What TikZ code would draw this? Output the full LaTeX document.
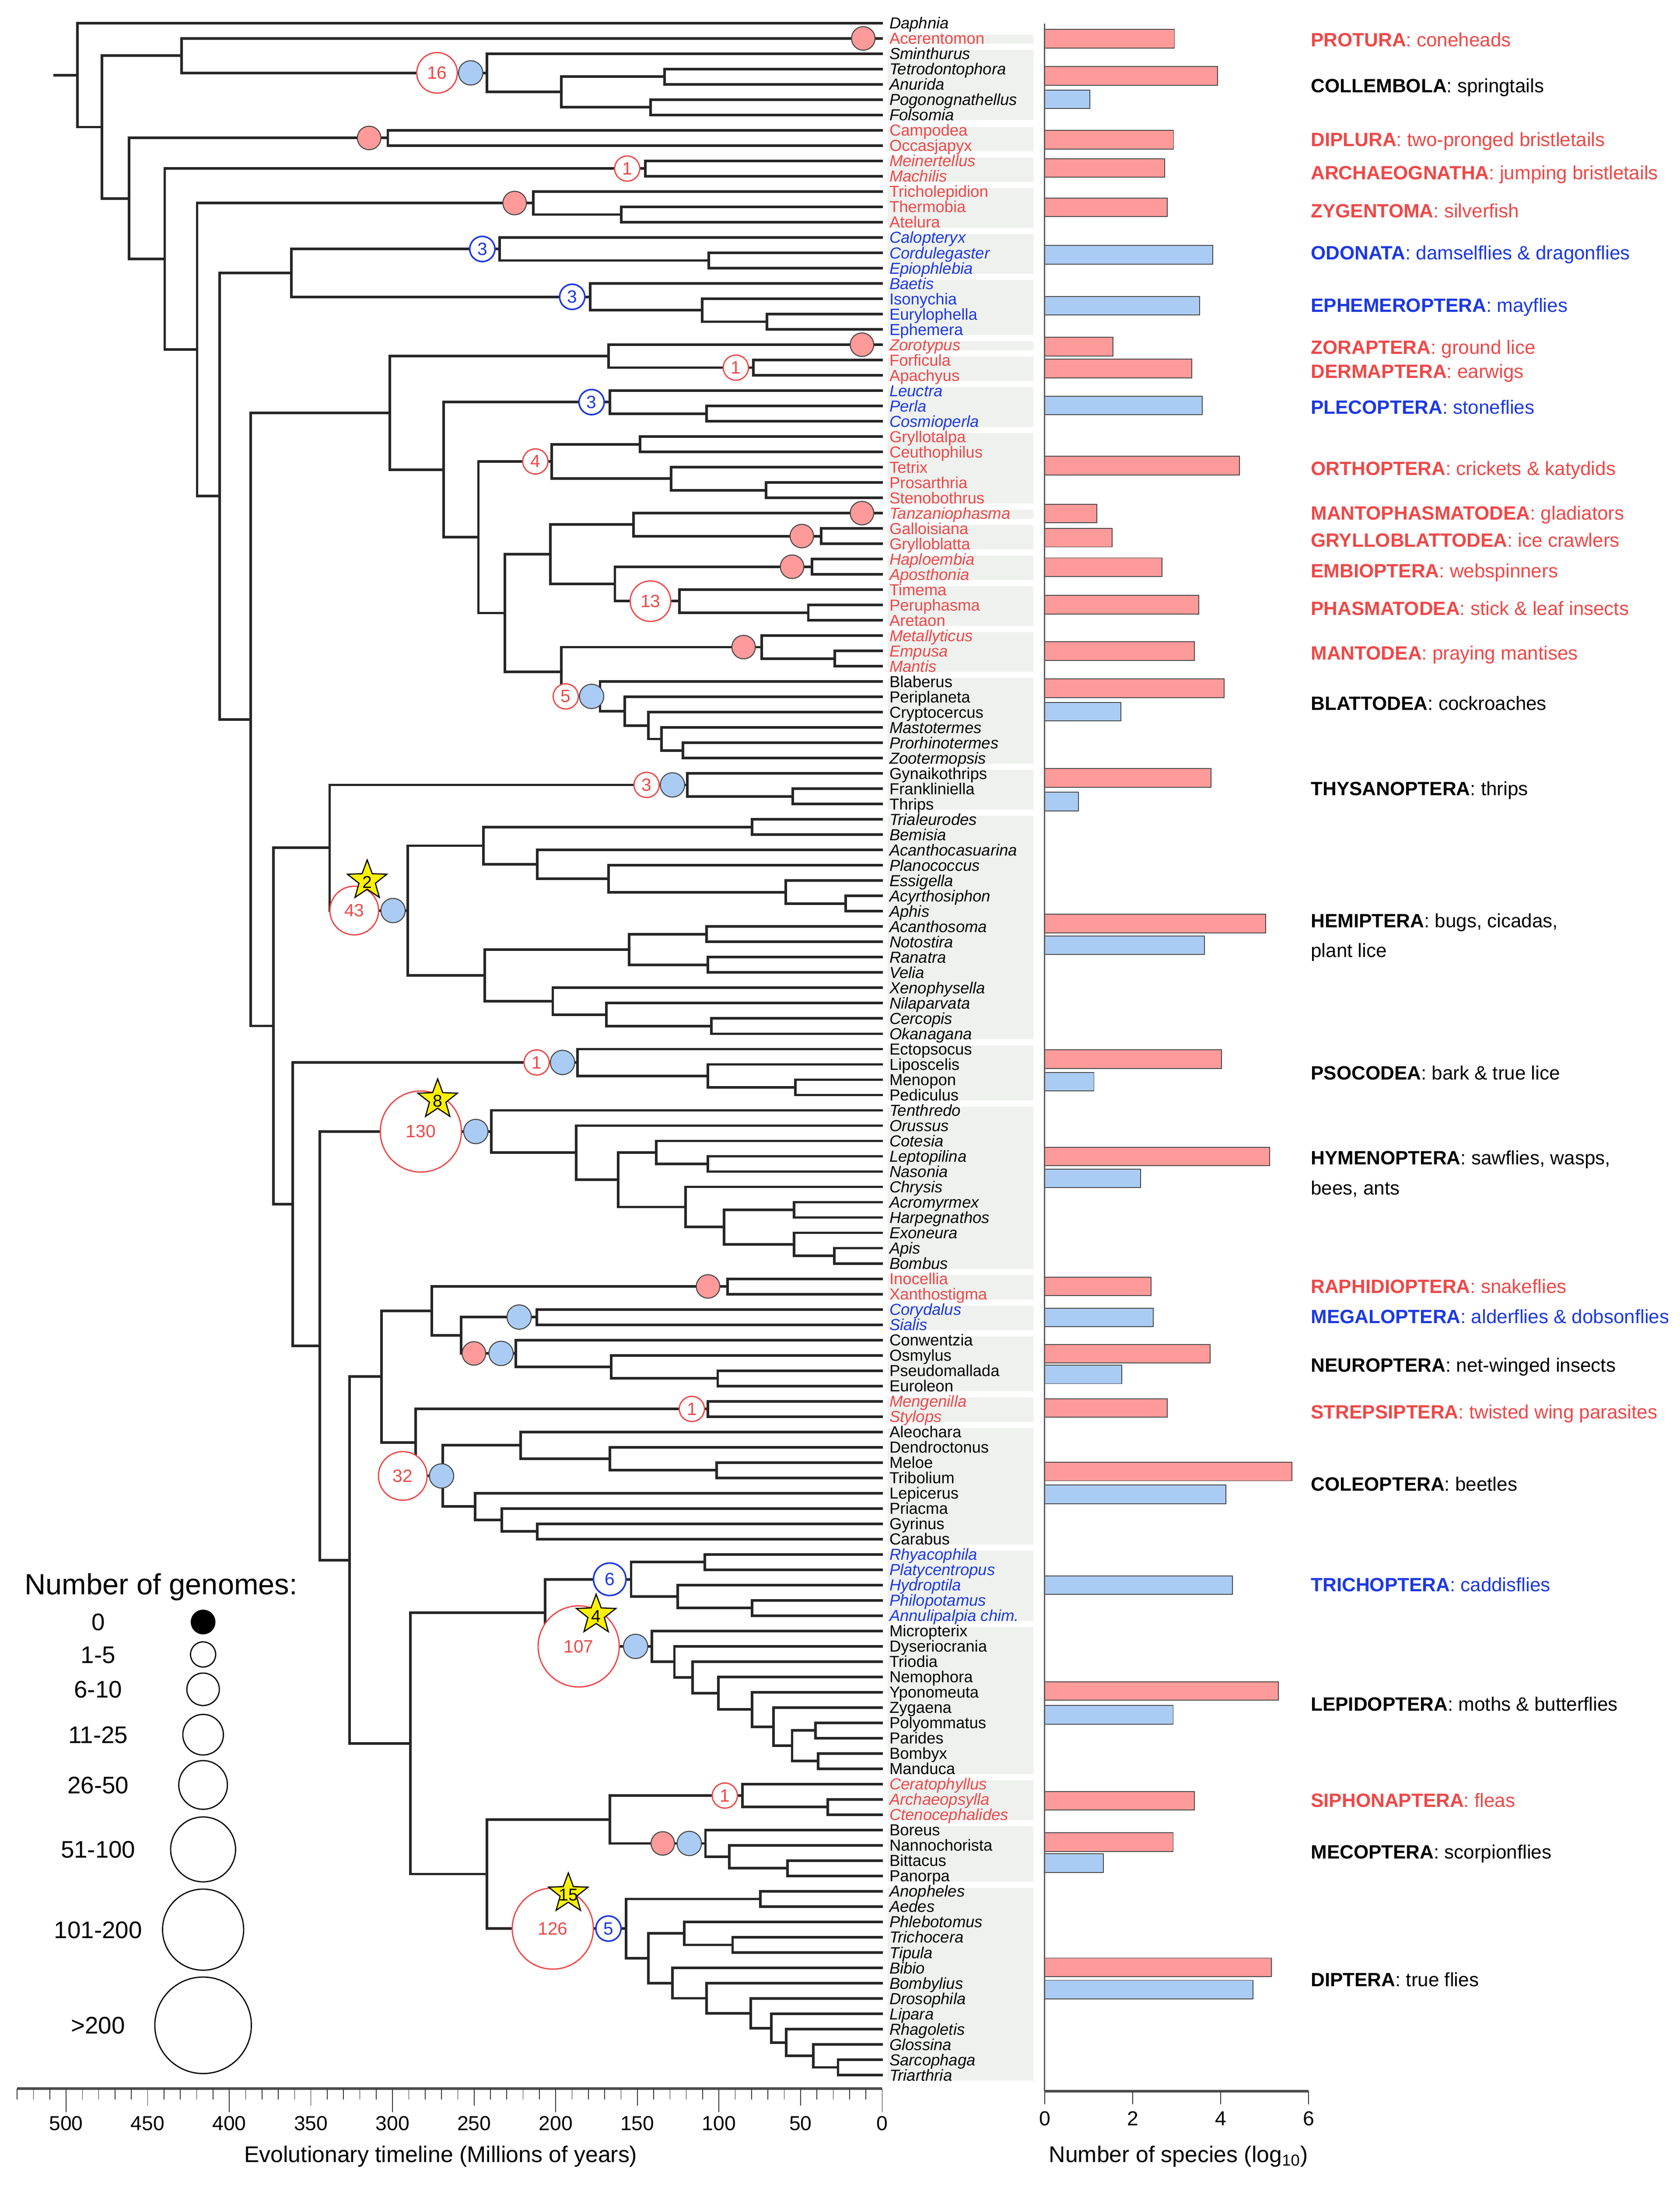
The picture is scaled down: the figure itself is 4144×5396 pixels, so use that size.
\documentclass[tikz,border=0pt]{standalone}
\usepackage{fontspec}
\setmainfont{Liberation Sans}
\usetikzlibrary{calc,shapes.geometric}
\definecolor{tred}{RGB}{238,72,72}
\definecolor{tblue}{RGB}{28,56,226}
\definecolor{pinkf}{RGB}{255,154,154}
\definecolor{bluef}{RGB}{170,204,244}
\definecolor{bandg}{RGB}{239,241,239}
\definecolor{edgeg}{RGB}{70,70,70}
\newcommand\myfs[1]{\fontsize{#1}{#1}\selectfont}
\newcommand\nd[4]{%
  \path ($(#3)!0.5!(#4)$) coordinate (#1m);
  \coordinate (#1) at (#2,0 |- #1m);
  \draw[br] (#1) |- (#3);
  \draw[br] (#1) |- (#4);
}
\newcommand\grp[3]{\foreach \n [count=\i from #1] in {#3} {\node[#2] (t\i) at (L\i) {\n};}}
\tikzset{
  br/.style={line width=1.8pt, draw=black!85},
  txb/.style={anchor=base west, inner sep=0pt, xshift=0.16cm, yshift=-4pt, font=\myfs{11.2pt}},
  xk/.style={txb, text=black},
  xki/.style={txb, text=black, font=\myfs{11.2pt}\itshape},
  xr/.style={txb, text=tred},
  xri/.style={txb, text=tred, font=\myfs{11.2pt}\itshape},
  xb/.style={txb, text=tblue},
  xbi/.style={txb, text=tblue, font=\myfs{11.2pt}\itshape},
  mkpink/.style={circle, draw=edgeg, line width=0.7pt, fill=pinkf, minimum size=0.58cm, inner sep=0pt},
  mkblue/.style={circle, draw=edgeg, line width=0.7pt, fill=bluef, minimum size=0.6cm, inner sep=0pt},
  mkred/.style={circle, draw=tred, line width=0.9pt, fill=white, text=tred, minimum size=#1, inner sep=0pt, font=\myfs{12.5pt}},
  mkbo/.style={circle, draw=tblue, line width=1.1pt, fill=white, text=tblue, minimum size=#1, inner sep=0pt, font=\myfs{12.5pt}},
  ystar/.style={star, star points=5, star point ratio=2.4, draw=black, line width=0.8pt, fill=yellow, minimum size=1.02cm, inner sep=0pt},
  sttxt/.style={inner sep=0pt, font=\myfs{12pt}, yshift=-1pt},
  ol/.style={anchor=base west, inner sep=0pt, font=\myfs{13.5pt}},
  barst/.style={draw=edgeg, line width=0.6pt},
  tick/.style={line width=0.5pt, draw=black!80},
  axl/.style={anchor=base, inner sep=0pt, font=\myfs{14.2pt}},
  ttl/.style={anchor=base, inner sep=0pt, font=\myfs{15.9pt}},
  lgc/.style={circle, draw=black, line width=0.85pt, inner sep=0pt},
  lgl/.style={anchor=base, inner sep=0pt, yshift=-6pt, font=\myfs{16.8pt}}
}
\begin{document}
\begin{tikzpicture}[x=0.01cm,y=-0.01cm]
\fill[white] (0,0) rectangle (4144,5396);
\useasboundingbox (0,0) rectangle (4144,5396);

\begin{scope}[shift={(100,19.24)},x=0.015944cm,y=-0.3776cm]
% gray bands
\foreach \a/\b in {2/2,3/7,8/9,10/11,12/14,15/17,18/21,22/22,23/24,25/27,28/32,33/33,34/35,36/37,38/40,41/43,44/49,50/52,53/67,68/71,72/82,83/84,85/86,87/90,91/92,93/100,101/105,106/115,116/118,119/122,123/135}
  {\fill[bandg] (1310,\a-0.24) rectangle (1535,\b+0.36);}
% leaves
\foreach \i in {1,...,135} {\coordinate (L\i) at (1302,\i);}
% tree
\nd{Col3}{965}{L4}{L5}
\nd{Col4}{943}{L6}{L7}
\nd{Col2}{805}{Col3}{Col4}
\nd{Col}{690}{L3}{Col2}
\nd{B}{218}{L2}{Col}
\nd{Dip}{537}{L8}{L9}
\nd{Arc}{935}{L10}{L11}
\nd{Zyg2}{898}{L13}{L14}
\nd{Zyg}{762}{L12}{Zyg2}
\nd{Odo2}{1033}{L16}{L17}
\nd{Odo}{710}{L15}{Odo2}
\nd{Eph3}{1123}{L20}{L21}
\nd{Eph2}{1023}{L19}{Eph3}
\nd{Eph}{850}{L18}{Eph2}
\nd{G}{388}{Odo}{Eph}
\nd{Der}{1102}{L23}{L24}
\nd{Pa}{878}{L22}{Der}
\nd{Ple2}{1030}{L26}{L27}
\nd{Ple}{880}{L25}{Ple2}
\nd{Ort1}{927}{L28}{L29}
\nd{Ort3}{1122}{L31}{L32}
\nd{Ort2}{975}{L30}{Ort3}
\nd{Ort}{790}{Ort1}{Ort2}
\nd{Gry}{1207}{L34}{L35}
\nd{Pg}{917}{L33}{Gry}
\nd{Emb}{1193}{L36}{L37}
\nd{Pha2}{1187}{L39}{L40}
\nd{Pha}{988}{L38}{Pha2}
\nd{Ph}{888}{Emb}{Pha}
\nd{Pe}{788}{Pg}{Ph}
\nd{Man2}{1228}{L42}{L43}
\nd{Man}{1115}{L41}{Man2}
\nd{Bla5}{993}{L48}{L49}
\nd{Bla4}{960}{L47}{Bla5}
\nd{Bla3}{940}{L46}{Bla4}
\nd{Bla2}{903}{L45}{Bla3}
\nd{Bla}{865}{L44}{Bla2}
\nd{Pf}{805}{Man}{Bla}
\nd{Pd}{718}{Pe}{Pf}
\nd{Pc}{677}{Ort}{Pd}
\nd{Pb}{623}{Ple}{Pc}
\nd{Poly}{540}{Pa}{Pb}
\nd{Thy2}{1163}{L51}{L52}
\nd{Thy}{1000}{L50}{Thy2}
\nd{Hm3}{1100}{L53}{L54}
\nd{Hm7}{1245}{L58}{L59}
\nd{Hm6}{1152}{L57}{Hm7}
\nd{Hm5}{878}{L56}{Hm6}
\nd{Hm4}{768}{L55}{Hm5}
\nd{Hm1}{685}{Hm3}{Hm4}
\nd{Hm10}{1030}{L60}{L61}
\nd{Hm11}{1032}{L62}{L63}
\nd{Hm8}{910}{Hm10}{Hm11}
\nd{Hm13}{1037}{L66}{L67}
\nd{Hm12}{875}{L65}{Hm13}
\nd{Hm9}{792}{L64}{Hm12}
\nd{Hm2}{687}{Hm8}{Hm9}
\nd{Hem}{568}{Hm1}{Hm2}
\nd{J}{447}{Thy}{Hem}
\nd{Pso3}{1167}{L70}{L71}
\nd{Pso2}{1032}{L69}{Pso3}
\nd{Pso}{830}{L68}{Pso2}
\nd{Hy5}{1032}{L75}{L76}
\nd{Hy3}{952}{L74}{Hy5}
\nd{Hy7}{1165}{L78}{L79}
\nd{Hy9}{1227}{L81}{L82}
\nd{Hy8}{1165}{L80}{Hy9}
\nd{Hy6}{1057}{Hy7}{Hy8}
\nd{Hy4}{997}{L77}{Hy6}
\nd{Hy2}{893}{Hy3}{Hy4}
\nd{Hy1}{828}{L73}{Hy2}
\nd{Hym}{697}{L72}{Hy1}
\nd{Rap}{1062}{L83}{L84}
\nd{Meg}{767}{L85}{L86}
\nd{Neu4}{1047}{L89}{L90}
\nd{Neu3}{882}{L88}{Neu4}
\nd{Neu}{735}{L87}{Neu3}
\nd{Nb}{650}{Meg}{Neu}
\nd{Na}{605}{Rap}{Nb}
\nd{Str}{1032}{L91}{L92}
\nd{Co4}{1045}{L95}{L96}
\nd{Co3}{880}{L94}{Co4}
\nd{Co1}{742}{L93}{Co3}
\nd{Co6}{768}{L99}{L100}
\nd{Co5}{713}{L98}{Co6}
\nd{Co2}{672}{L97}{Co5}
\nd{Cole}{622}{Co1}{Co2}
\nd{S}{580}{Str}{Cole}
\nd{O}{527}{Na}{S}
\nd{Tr1}{1027}{L101}{L102}
\nd{Tr3}{1100}{L104}{L105}
\nd{Tr2}{985}{L103}{Tr3}
\nd{Tri}{913}{Tr1}{Tr2}
\nd{Le7}{1198}{L112}{L113}
\nd{Le8}{1202}{L114}{L115}
\nd{Le6}{1162}{Le7}{Le8}
\nd{Le5}{1133}{L111}{Le6}
\nd{Le4}{1100}{L110}{Le5}
\nd{Le3}{1048}{L109}{Le4}
\nd{Le2}{1008}{L108}{Le3}
\nd{Le1}{980}{L107}{Le2}
\nd{Lep}{945}{L106}{Le1}
\nd{T}{780}{Tri}{Lep}
\nd{Sip2}{1217}{L117}{L118}
\nd{Sip}{1085}{L116}{Sip2}
\nd{Mec3}{1155}{L121}{L122}
\nd{Mec2}{1065}{L120}{Mec3}
\nd{Mec}{1028}{L119}{Mec2}
\nd{V}{880}{Sip}{Mec}
\nd{Dp1}{1113}{L123}{L124}
\nd{Dp5}{1070}{L126}{L127}
\nd{Dp3}{995}{L125}{Dp5}
\nd{Dp11}{1233}{L134}{L135}
\nd{Dp10}{1195}{L133}{Dp11}
\nd{Dp9}{1153}{L132}{Dp10}
\nd{Dp8}{1130}{L131}{Dp9}
\nd{Dp7}{1098}{L130}{Dp8}
\nd{Dp6}{1030}{L129}{Dp7}
\nd{Dp4}{977}{L128}{Dp6}
\nd{Dp2}{940}{Dp3}{Dp4}
\nd{Dpt}{905}{Dp1}{Dp2}
\nd{U}{690}{V}{Dpt}
\nd{Q}{572}{T}{U}
\nd{N}{478}{O}{Q}
\nd{M}{432}{Hym}{N}
\nd{K}{390}{Pso}{M}
\nd{I}{360}{J}{K}
\nd{H}{325}{Poly}{I}
\nd{F}{277}{G}{H}
\nd{E}{242}{Zyg}{F}
\nd{D}{192}{Arc}{E}
\nd{C}{137}{Dip}{D}
\nd{A}{95}{B}{C}
\nd{R}{57}{L1}{A}
\coordinate (stub) at (20,0 |- R);
\draw[br] (stub) -- (R);
% markers
\node[mkpink] (mk1) at (1272,0 |- L2) {};
\node[mkred=1cm] (mk2) at (613,0 |- Col) {16};
\node[mkblue] (mk3) at (665,0 |- Col) {};
\node[mkpink] (mk4) at (508,0 |- Dip) {};
\node[mkred=0.62cm] (mk5) at (907,0 |- Arc) {1};
\node[mkpink] (mk6) at (733,0 |- Zyg) {};
\node[mkbo=0.62cm] (mk7) at (683,0 |- Odo) {3};
\node[mkbo=0.62cm] (mk8) at (822,0 |- Eph) {3};
\node[mkpink] (mk9) at (1270,0 |- L22) {};
\node[mkred=0.62cm] (mk10) at (1075,0 |- Der) {1};
\node[mkbo=0.62cm] (mk11) at (852,0 |- Ple) {3};
\node[mkred=0.62cm] (mk12) at (765,0 |- Ort) {4};
\node[mkpink] (mk13) at (1270,0 |- L33) {};
\node[mkpink] (mk14) at (1177,0 |- Gry) {};
\node[mkpink] (mk15) at (1162,0 |- Emb) {};
\node[mkred=1cm] (mk16) at (943,0 |- Pha) {13};
\node[mkpink] (mk17) at (1087,0 |- Man) {};
\node[mkred=0.62cm] (mk18) at (812,0 |- Bla) {5};
\node[mkblue] (mk19) at (852,0 |- Bla) {};
\node[mkred=0.62cm] (mk20) at (937,0 |- Thy) {3};
\node[mkblue] (mk21) at (977,0 |- Thy) {};
\node[mkred=1.2cm] (mk22) at (485,0 |- Hem) {43};
\node[mkblue] (mk23) at (545,0 |- Hem) {};
\node[mkred=0.62cm] (mk24) at (767,0 |- Pso) {1};
\node[mkblue] (mk25) at (807,0 |- Pso) {};
\node[mkred=2cm] (mk26) at (588,0 |- Hym) {130};
\node[mkblue] (mk27) at (673,0 |- Hym) {};
\node[mkpink] (mk28) at (1032,0 |- Rap) {};
\node[mkblue] (mk29) at (740,0 |- Meg) {};
\node[mkpink] (mk30) at (670,0 |- Neu) {};
\node[mkblue] (mk31) at (712,0 |- Neu) {};
\node[mkred=0.62cm] (mk32) at (1007,0 |- Str) {1};
\node[mkred=1.2cm] (mk33) at (560,0 |- Cole) {32};
\node[mkblue] (mk34) at (620,0 |- Cole) {};
\node[mkbo=0.8cm] (mk35) at (880,0 |- Tri) {6};
\node[mkred=2cm] (mk36) at (832,0 |- Lep) {107};
\node[mkblue] (mk37) at (920,0 |- Lep) {};
\node[mkred=0.62cm] (mk38) at (1058,0 |- Sip) {1};
\node[mkpink] (mk39) at (962,0 |- Mec) {};
\node[mkblue] (mk40) at (1003,0 |- Mec) {};
\node[mkred=2cm] (mk41) at (792,0 |- Dpt) {126};
\node[mkbo=0.62cm] (mk42) at (878,0 |- Dpt) {5};
% stars
\node[ystar] (st1) at (505,57.0) {};
\node[sttxt] (st1t) at (st1.center) {2};
\node[ystar] (st2) at (614,71.3) {};
\node[sttxt] (st2t) at (st2.center) {8};
\node[ystar] (st3) at (859,104.95) {};
\node[sttxt] (st3t) at (st3.center) {4};
\node[ystar] (st4) at (816,123.15) {};
\node[sttxt] (st4t) at (st4.center) {15};
% taxa
\grp{1}{xki}{Daphnia}
\grp{2}{xr}{Acerentomon}
\grp{3}{xki}{Sminthurus,Tetrodontophora,Anurida,Pogonognathellus,Folsomia}
\grp{8}{xr}{Campodea,Occasjapyx}
\grp{10}{xri}{Meinertellus,Machilis}
\grp{12}{xr}{Tricholepidion,Thermobia,Atelura}
\grp{15}{xbi}{Calopteryx,Cordulegaster,Epiophlebia,Baetis}
\grp{19}{xb}{Isonychia,Eurylophella,Ephemera}
\grp{22}{xri}{Zorotypus}
\grp{23}{xr}{Forficula,Apachyus}
\grp{25}{xbi}{Leuctra,Perla,Cosmioperla}
\grp{28}{xr}{Gryllotalpa,Ceuthophilus,Tetrix,Prosarthria,Stenobothrus}
\grp{33}{xri}{Tanzaniophasma}
\grp{34}{xr}{Galloisiana,Grylloblatta}
\grp{36}{xri}{Haploembia,Aposthonia}
\grp{38}{xr}{Timema,Peruphasma,Aretaon}
\grp{41}{xri}{Metallyticus,Empusa,Mantis}
\grp{44}{xk}{Blaberus,Periplaneta,Cryptocercus}
\grp{47}{xki}{Mastotermes,Prorhinotermes,Zootermopsis}
\grp{50}{xk}{Gynaikothrips,Frankliniella,Thrips}
\grp{53}{xki}{Trialeurodes,Bemisia,Acanthocasuarina,Planococcus,Essigella,Acyrthosiphon,Aphis,Acanthosoma,Notostira,Ranatra,Velia,Xenophysella,Nilaparvata,Cercopis,Okanagana}
\grp{68}{xk}{Ectopsocus,Liposcelis,Menopon,Pediculus}
\grp{72}{xki}{Tenthredo,Orussus,Cotesia,Leptopilina,Nasonia,Chrysis,Acromyrmex,Harpegnathos,Exoneura,Apis,Bombus}
\grp{83}{xr}{Inocellia,Xanthostigma}
\grp{85}{xbi}{Corydalus,Sialis}
\grp{87}{xk}{Conwentzia,Osmylus,Pseudomallada,Euroleon}
\grp{91}{xri}{Mengenilla,Stylops}
\grp{93}{xk}{Aleochara,Dendroctonus,Meloe,Tribolium,Lepicerus,Priacma,Gyrinus,Carabus}
\grp{101}{xbi}{Rhyacophila,Platycentropus,Hydroptila,Philopotamus,Annulipalpia chim.}
\grp{106}{xk}{Micropterix,Dyseriocrania,Triodia,Nemophora,Yponomeuta,Zygaena,Polyommatus,Parides,Bombyx,Manduca}
\grp{116}{xri}{Ceratophyllus,Archaeopsylla,Ctenocephalides}
\grp{119}{xk}{Boreus,Nannochorista,Bittacus,Panorpa}
\grp{123}{xki}{Anopheles,Aedes,Phlebotomus,Trichocera,Tipula,Bibio,Bombylius,Drosophila,Lipara,Rhagoletis,Glossina,Sarcophaga,Triarthria}
\end{scope}

% bars
\foreach \yc/\v/\c in {95.7/2.95/pinkf,187/3.93/pinkf,245/1.03/bluef,345/2.93/pinkf,414.5/2.73/pinkf,511.5/2.79/pinkf,628.5/3.82/bluef,754.5/3.52/bluef,855/1.55/pinkf,909.5/3.34/pinkf,1000.5/3.58/bluef,1148.5/4.43/pinkf,1267/1.18/pinkf,1326.5/1.53/pinkf,1399.5/2.67/pinkf,1492/3.50/pinkf,1606.5/3.40/pinkf,1698/4.08/pinkf,1756/1.73/bluef,1919.5/3.78/pinkf,1977.5/0.77/bluef,2278.5/5.02/pinkf,2332/3.63/bluef,2613/4.02/pinkf,2669/1.12/bluef,2853.5/5.11/pinkf,2907.5/2.18/bluef,3174/2.42/pinkf,3250.5/2.47/bluef,3340/3.76/pinkf,3391/1.75/bluef,3474/2.79/pinkf,3630.6/5.62/pinkf,3686.8/4.12/bluef,3911/4.27/bluef,4172/5.31/pinkf,4231/2.92/bluef,4443/3.40/pinkf,4545/2.92/pinkf,4597/1.33/bluef,4854/5.15/pinkf,4909/4.74/bluef}
  {\draw[barst, fill=\c] (2577,\yc-23) rectangle (2577+108.5*\v,\yc+23);}
% bar axes
\coordinate (ba0) at (2577,58);
\coordinate (ba1) at (2577,5160);
\coordinate (ba2) at (3228,5160);
\draw[line width=0.9pt, draw=black!65] (ba0) -- (ba1);
\draw[line width=1.8pt, draw=black!70] (ba1) -- (ba2);
\foreach \v in {0,2,4,6} {
  \draw[tick] (2577+108.5*\v,5160) -- (2577+108.5*\v,5192);
  \node[axl] (bl\v) at (2577+108.5*\v,5244) {\v};
}
\node[ttl] (bt) at (2907,5335) {Number of species (log\textsubscript{10})};
% timeline axis
\coordinate (ta0) at (42,5153);
\coordinate (ta1) at (2176,5153);
\draw[line width=1.8pt, draw=black!70] (ta0) -- (ta1);
\foreach \m in {0,10,...,530} {
  \pgfmathsetmacro\te{mod(\m,100)==0 ? 5211 : (mod(\m,50)==0 ? 5195 : 5180)}
  \draw[tick] (2176-4.026*\m,5153) -- (2176-4.026*\m,\te);
}
\foreach \m in {0,50,...,500} {\node[axl] (tl\m) at (2176-4.026*\m,5256) {\m};}
\node[ttl] (tt) at (1087,5335) {Evolutionary timeline (Millions of years)};
% order labels
\node[ol, text=tred] (o1) at (3233,115) {\textbf{PROTURA}: coneheads};
\node[ol, text=black] (o2) at (3233,228) {\textbf{COLLEMBOLA}: springtails};
\node[ol, text=tred] (o3) at (3233,361) {\textbf{DIPLURA}: two-pronged bristletails};
\node[ol, text=tred] (o4) at (3233,443) {\textbf{ARCHAEOGNATHA}: jumping bristletails};
\node[ol, text=tred] (o5) at (3233,537) {\textbf{ZYGENTOMA}: silverfish};
\node[ol, text=tblue] (o6) at (3233,641) {\textbf{ODONATA}: damselflies \& dragonflies};
\node[ol, text=tblue] (o7) at (3233,770) {\textbf{EPHEMEROPTERA}: mayflies};
\node[ol, text=tred] (o8) at (3233,874) {\textbf{ZORAPTERA}: ground lice};
\node[ol, text=tred] (o9) at (3233,933) {\textbf{DERMAPTERA}: earwigs};
\node[ol, text=tblue] (o10) at (3233,1021) {\textbf{PLECOPTERA}: stoneflies};
\node[ol, text=tred] (o11) at (3233,1173) {\textbf{ORTHOPTERA}: crickets \& katydids};
\node[ol, text=tred] (o12) at (3233,1283) {\textbf{MANTOPHASMATODEA}: gladiators};
\node[ol, text=tred] (o13) at (3233,1349) {\textbf{GRYLLOBLATTODEA}: ice crawlers};
\node[ol, text=tred] (o14) at (3233,1425) {\textbf{EMBIOPTERA}: webspinners};
\node[ol, text=tred] (o15) at (3233,1518) {\textbf{PHASMATODEA}: stick \& leaf insects};
\node[ol, text=tred] (o16) at (3233,1628) {\textbf{MANTODEA}: praying mantises};
\node[ol, text=black] (o17) at (3233,1752) {\textbf{BLATTODEA}: cockroaches};
\node[ol, text=black] (o18) at (3233,1963) {\textbf{THYSANOPTERA}: thrips};
\node[ol, text=black] (o19) at (3233,2288) {\textbf{HEMIPTERA}: bugs, cicadas,};
\node[ol, text=black] (o19b) at (3233,2362) {plant lice};
\node[ol, text=black] (o20) at (3233,2664) {\textbf{PSOCODEA}: bark \& true lice};
\node[ol, text=black] (o21) at (3233,2873) {\textbf{HYMENOPTERA}: sawflies, wasps,};
\node[ol, text=black] (o21b) at (3233,2948) {bees, ants};
\node[ol, text=tred] (o22) at (3233,3191) {\textbf{RAPHIDIOPTERA}: snakeflies};
\node[ol, text=tblue] (o23) at (3233,3265) {\textbf{MEGALOPTERA}: alderflies \& dobsonflies};
\node[ol, text=black] (o24) at (3233,3385) {\textbf{NEUROPTERA}: net-winged insects};
\node[ol, text=tred] (o25) at (3233,3500) {\textbf{STREPSIPTERA}: twisted wing parasites};
\node[ol, text=black] (o26) at (3233,3678) {\textbf{COLEOPTERA}: beetles};
\node[ol, text=tblue] (o27) at (3233,3927) {\textbf{TRICHOPTERA}: caddisflies};
\node[ol, text=black] (o28) at (3233,4221) {\textbf{LEPIDOPTERA}: moths \& butterflies};
\node[ol, text=tred] (o29) at (3233,4459) {\textbf{SIPHONAPTERA}: fleas};
\node[ol, text=black] (o30) at (3233,4586) {\textbf{MECOPTERA}: scorpionflies};
\node[ol, text=black] (o31) at (3233,4901) {\textbf{DIPTERA}: true flies};
% legend
\node[anchor=base west, inner sep=0pt, font=\myfs{20.5pt}] (lgt) at (60,3934) {Number of genomes:};
\foreach \lab/\yc/\d/\f [count=\k] in {0/4002/0.58/black,1-5/4082/0.62/white,6-10/4168/0.80/white,11-25/4280/1.00/white,26-50/4404/1.20/white,51-100/4563/1.60/white,101-200/4761/2.00/white,>200/4997/2.38/white}
  {\node[lgc, fill=\f, minimum size=\d cm] (lc\k) at (501,\yc) {};
   \node[lgl] (ll\k) at (242,\yc) {\lab};}
\end{tikzpicture}
\end{document}
